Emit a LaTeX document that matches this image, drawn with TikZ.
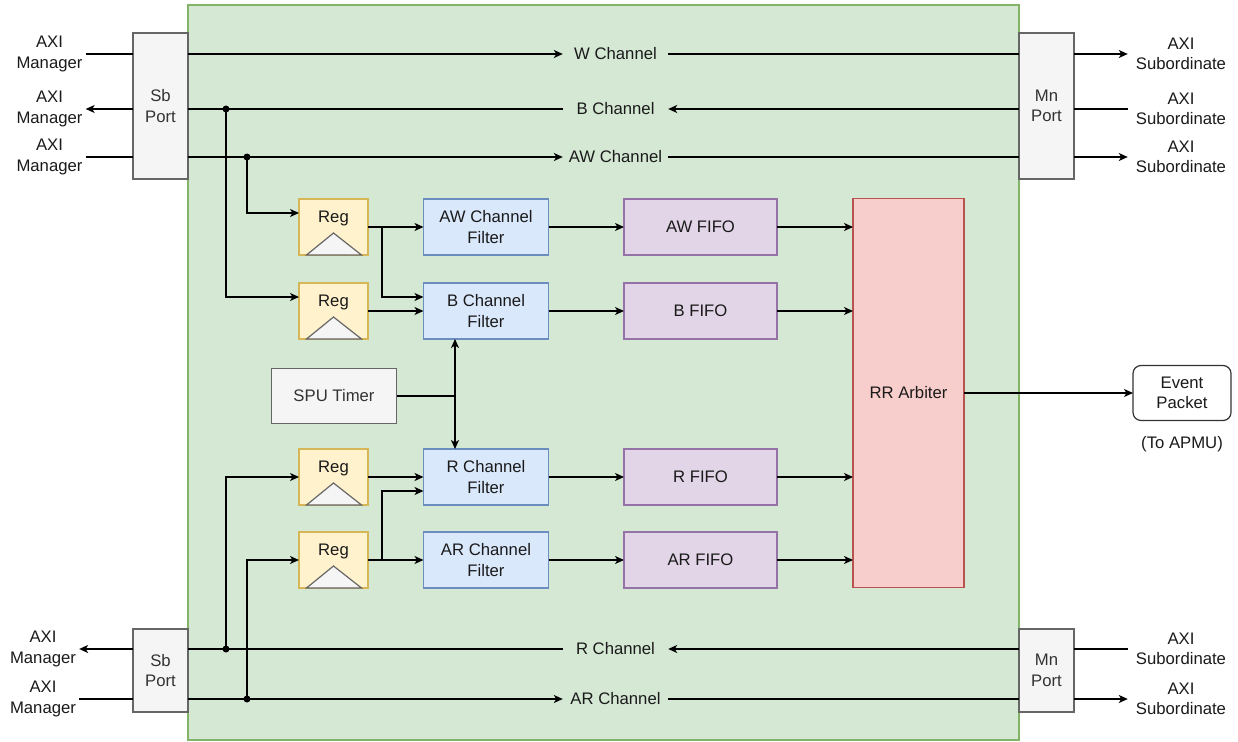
\documentclass[tikz,border=0pt]{standalone}
\usepackage{fontspec}
\setmainfont{Liberation Sans}
\usetikzlibrary{arrows.meta,calc}
\definecolor{gfill}{HTML}{D5E8D4}
\definecolor{gline}{HTML}{82B366}
\definecolor{pfill}{HTML}{F5F5F5}
\definecolor{pline}{HTML}{666666}
\definecolor{ptext}{HTML}{333333}
\definecolor{yfill}{HTML}{FFF2CC}
\definecolor{yline}{HTML}{D6B656}
\definecolor{bfill}{HTML}{DAE8FC}
\definecolor{bline}{HTML}{6C8EBF}
\definecolor{vfill}{HTML}{E1D5E7}
\definecolor{vline}{HTML}{9673A6}
\definecolor{rfill}{HTML}{F8CECC}
\definecolor{rline}{HTML}{B85450}
\definecolor{txt}{HTML}{1A1A1A}
\begin{document}
\begin{tikzpicture}[x=1pt,y=-1pt,
  every node/.style={font=\fontsize{16.7}{20.5}\selectfont, align=center, text=txt},
  box/.style={draw, line width=1.2pt, inner sep=0pt, outer sep=0pt},
  portbox/.style={box, fill=pfill, draw=pline, text=ptext, minimum width=55pt},
  regbox/.style={box, fill=yfill, draw=yline, minimum width=69pt, minimum height=56pt},
  filtbox/.style={box, fill=bfill, draw=bline, minimum width=125pt, minimum height=56pt},
  fifobox/.style={box, fill=vfill, draw=vline, minimum width=153pt, minimum height=56pt},
  tri/.style={fill=pfill, draw=pline, line width=1.2pt, line join=miter},
  chl/.style={inner sep=0pt, minimum width=105pt, minimum height=16pt},
  leftlab/.style={inner xsep=3pt, inner ysep=0pt},
  rightlab/.style={inner xsep=8pt, inner ysep=0pt},
  ln/.style={line width=1.4pt, draw=black},
  arr/.style={ln, -{Stealth[length=9pt,width=8pt,inset=2.5pt]}},
  darr/.style={ln, {Stealth[length=9pt,width=8pt,inset=2.5pt]}-{Stealth[length=9pt,width=8pt,inset=2.5pt]}},
  dot/.style={fill=black}
]
\useasboundingbox (0,0) rectangle (1238,741);

% main green area
\node[box, fill=gfill, draw=gline, minimum width=831pt, minimum height=735pt] (main) at (603.5,372.5) {};

% ports
\node[portbox, minimum height=146pt] (sbT) at (160.5,106) {Sb\\Port};
\node[portbox, minimum height=83pt] (sbB) at (160.5,670.5) {Sb\\Port};
\node[portbox, minimum height=146pt] (mnT) at (1046.5,106) {Mn\\Port};
\node[portbox, minimum height=83pt] (mnB) at (1046.5,670.5) {Mn\\Port};

% outside labels
\node[leftlab] (am1) at (49.5,54) {AXI\\Manager};
\node[leftlab] (am2) at (49.5,109) {AXI\\Manager};
\node[leftlab] (am3) at (49.5,157) {AXI\\Manager};
\node[leftlab] (am4) at (43,649) {AXI\\Manager};
\node[leftlab] (am5) at (43,699) {AXI\\Manager};
\node[rightlab] (as1) at (1181,54) {AXI\\Subordinate};
\node[rightlab] (as2) at (1181,109) {AXI\\Subordinate};
\node[rightlab] (as3) at (1181,157) {AXI\\Subordinate};
\node[rightlab] (as4) at (1181,649) {AXI\\Subordinate};
\node[rightlab] (as5) at (1181,699) {AXI\\Subordinate};

% channel labels
\node[chl] (wl) at (615.5,54) {W Channel};
\node[chl] (bl) at (615.5,109) {B Channel};
\node[chl] (awl) at (615.5,157) {AW Channel};
\node[chl] (rl) at (615.5,649) {R Channel};
\node[chl] (arl) at (615.5,699) {AR Channel};

% registers
\foreach \n/\y in {r1/227, r2/311, r3/477, r4/560}{
  \node[regbox] (\n) at (333.5,\y) {};
  \node (\n l) at ($(\n)+(0,-9)$) {Reg};
  \draw[tri] ($(\n.south)+(-27,0)$) -- ($(\n.south)+(0,-22)$) -- ($(\n.south)+(28,0)$) -- cycle;
}

% filters
\node[filtbox] (f1) at (486,227) {AW Channel\\Filter};
\node[filtbox] (f2) at (486,311) {B Channel\\Filter};
\node[filtbox] (f3) at (486,477) {R Channel\\Filter};
\node[filtbox] (f4) at (486,560) {AR Channel\\Filter};

% fifos
\node[fifobox] (q1) at (700.5,227) {AW FIFO};
\node[fifobox] (q2) at (700.5,311) {B FIFO};
\node[fifobox] (q3) at (700.5,477) {R FIFO};
\node[fifobox] (q4) at (700.5,560) {AR FIFO};

% arbiter
\node[box, fill=rfill, draw=rline, minimum width=111pt, minimum height=389pt] (arb) at (908.5,393) {RR Arbiter};

% timer
\node[box, fill=pfill, draw=pline, text=ptext, minimum width=125pt, minimum height=55pt] (tm) at (334,396) {SPU Timer};

% event packet
\node[box, fill=white, draw=black!80, rounded corners=8pt, minimum width=98pt, minimum height=55pt] (ev) at (1182,393) {Event\\Packet};
\node (apmu) at (1182,444) {(To APMU)};

% ---- channel lines ----
% W
\draw[ln] (am1.east) -- (sbT.west |- am1);
\draw[arr] (sbT.east |- wl) -- (wl.west);
\draw[ln] (wl.east) -- (mnT.west |- wl);
\draw[arr] (mnT.east |- as1) -- (as1.west);
% B
\draw[ln] (as2.west) -- (mnT.east |- as2);
\draw[arr] (mnT.west |- bl) -- (bl.east);
\draw[ln] (bl.west) -- (sbT.east |- bl);
\draw[arr] (sbT.west |- am2) -- (am2.east);
% AW
\draw[ln] (am3.east) -- (sbT.west |- am3);
\draw[arr] (sbT.east |- awl) -- (awl.west);
\draw[ln] (awl.east) -- (mnT.west |- awl);
\draw[arr] (mnT.east |- as3) -- (as3.west);
% R
\draw[ln] (as4.west) -- (mnB.east |- as4);
\draw[arr] (mnB.west |- rl) -- (rl.east);
\draw[ln] (rl.west) -- (sbB.east |- rl);
\draw[arr] (sbB.west |- am4) -- (am4.east);
% AR
\draw[ln] (am5.east) -- (sbB.west |- am5);
\draw[arr] (sbB.east |- arl) -- (arl.west);
\draw[ln] (arl.east) -- (mnB.west |- arl);
\draw[arr] (mnB.east |- as5) -- (as5.west);

% junctions
\coordinate (jB) at (226,109);
\coordinate (jAW) at (247,157);
\coordinate (jR) at (226,649);
\coordinate (jAR) at (247,699);
\draw[arr] (jB) |- ($(r2.west)+(0,-14)$);
\draw[arr] (jAW) |- ($(r1.west)+(0,-14)$);
\draw[arr] (jR) |- (r3.west);
\draw[arr] (jAR) |- (r4.west);
\foreach \j in {jB,jAW,jR,jAR}{\fill[dot] (\j) circle (3.5pt);}

% register outputs
\draw[arr] (r1.east) -- (f1.west);
\draw[arr] (r2.east) -- (f2.west);
\draw[arr] (r3.east) -- (f3.west);
\draw[arr] (r4.east) -- (f4.west);
\coordinate (br1) at (382,227);
\coordinate (br4) at (382,560);
\draw[arr] (br1) |- ($(f2.west)+(0,-14)$);
\draw[arr] (br4) |- ($(f3.west)+(0,14)$);

% timer
\coordinate (vx) at ($(f2.south)+(-31,0)$);
\coordinate (vy) at ($(f3.north)+(-31,0)$);
\draw[darr] (vx) -- (vy);
\draw[ln] (tm.east) -- (vx |- tm.east);

% filters to fifos
\draw[arr] (f1.east) -- (q1.west);
\draw[arr] (f2.east) -- (q2.west);
\draw[arr] (f3.east) -- (q3.west);
\draw[arr] (f4.east) -- (q4.west);

% fifos to arbiter
\draw[arr] (q1.east) -- (q1.east -| arb.west);
\draw[arr] (q2.east) -- (q2.east -| arb.west);
\draw[arr] (q3.east) -- (q3.east -| arb.west);
\draw[arr] (q4.east) -- (q4.east -| arb.west);

% arbiter to event
\draw[arr] (arb.east) -- (ev.west);
\end{tikzpicture}
\end{document}
